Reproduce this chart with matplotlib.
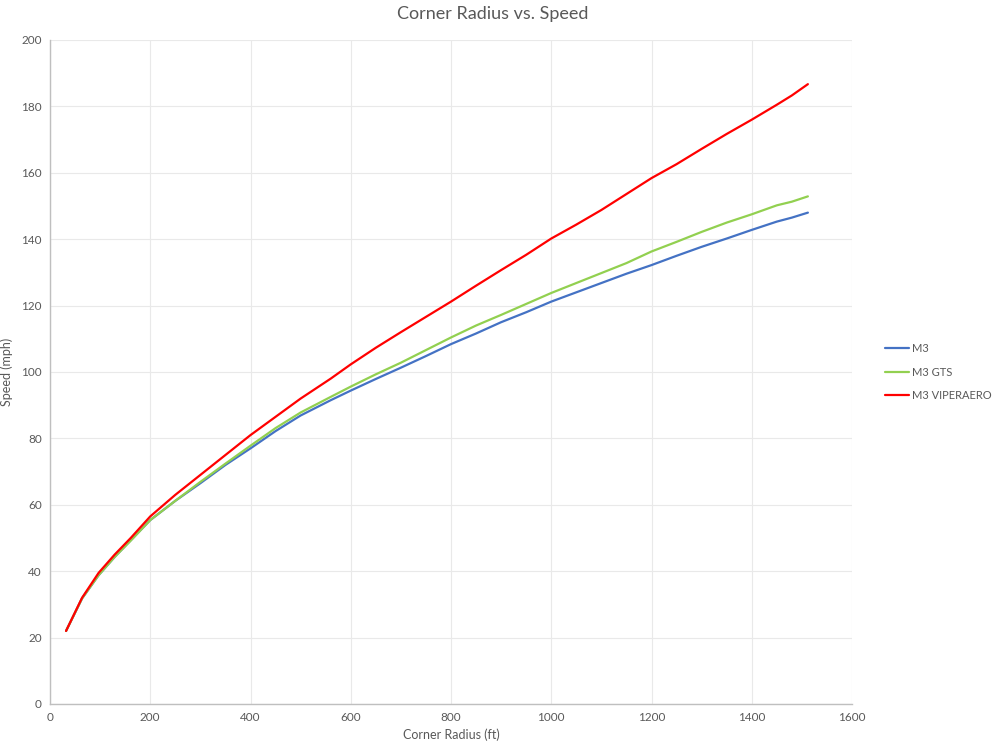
import matplotlib
matplotlib.use("Agg")
import matplotlib.pyplot as plt

plt.rcParams['font.family'] = ['Lato', 'DejaVu Sans']

radius_ft = [32, 64, 97, 129, 161, 200, 250, 300, 350, 400, 450, 500, 560, 600, 650, 700,
             750, 800, 850, 900, 950, 1000, 1050, 1100, 1150, 1200, 1250, 1300, 1350, 1400,
             1450, 1480, 1512]
m3 = [22, 31.8, 38.8, 44.3, 49.3, 55.4, 61.2, 66.5, 72, 77, 82.2, 86.9, 91.5, 94.4, 97.9, 101.3,
      104.8, 108.4, 111.6, 115, 118.0, 121.2, 124, 126.8, 129.6, 132.2, 135.0, 137.7, 140.2, 142.8,
      145.3, 146.5, 148]
m3_gts = [22, 31.8, 38.8, 44.3, 49.2, 55.4, 61.2, 66.9, 72.4, 77.8, 83.1, 87.8, 92.5, 95.6, 99.3, 102.8,
          106.6, 110.4, 114, 117.2, 120.5, 123.8, 126.8, 129.8, 132.8, 136.3, 139.2, 142.2, 145.0, 147.5,
          150.2, 151.3, 152.9]
m3_viperaero = [22, 32, 39.5, 45, 50, 56.5, 63, 69, 75, 81, 86.5, 92, 98, 102.3, 107.3, 112,
                116.6, 121.2, 126, 130.7, 135.3, 140.2, 144.4, 148.8, 153.6, 158.4, 162.6, 167.2, 171.7, 176,
                180.5, 183.3, 186.7]
series_names = ["M3", "M3 GTS", "M3 VIPERAERO"]
x_ticks = [0, 200, 400, 600, 800, 1000, 1200, 1400, 1600]
y_ticks = [0, 20, 40, 60, 80, 100, 120, 140, 160, 180, 200]

colors = ["#4472C4", "#92D050", "#FF0000"]
text_color = "#595959"

fig = plt.figure(figsize=(9.98, 7.5), dpi=100)
ax = fig.add_axes([50/998, 1 - 704/750, (852-50)/998, (704-40)/750])

for ys, name, c in zip([m3, m3_gts, m3_viperaero], series_names, colors):
    ax.plot(radius_ft, ys, color=c, lw=1.6, label=name, solid_joinstyle='round', solid_capstyle='round')

ax.set_xlim(0, 1600)
ax.set_ylim(0, 200)
ax.set_xticks(x_ticks)
ax.set_yticks(y_ticks)
ax.grid(True, color="#E9E9E9", lw=0.8)
ax.set_axisbelow(True)
for s in ["top", "right"]:
    ax.spines[s].set_visible(False)
for s in ["left", "bottom"]:
    ax.spines[s].set_color("#BFBFBF")
    ax.spines[s].set_linewidth(1.0)
ax.tick_params(length=0, labelsize=8.5, colors=text_color, pad=6)

ax.set_xlabel("Corner Radius (ft)", fontsize=9, color=text_color, labelpad=4)
ax.set_ylabel("Speed (mph)", fontsize=9, color=text_color, labelpad=6)
fig.text(493/998, 1 - 14/750, "Corner Radius vs. Speed", ha="center", va="center",
         fontsize=13, color=text_color)

leg = ax.legend(loc="center left", bbox_to_anchor=(1.035, 0.5), frameon=False,
                fontsize=8, handlelength=2.2, handletextpad=0.3, labelspacing=1.1,
                borderaxespad=0)
for t in leg.get_texts():
    t.set_color(text_color)

fig.savefig("out.png", dpi=100, facecolor="white")
